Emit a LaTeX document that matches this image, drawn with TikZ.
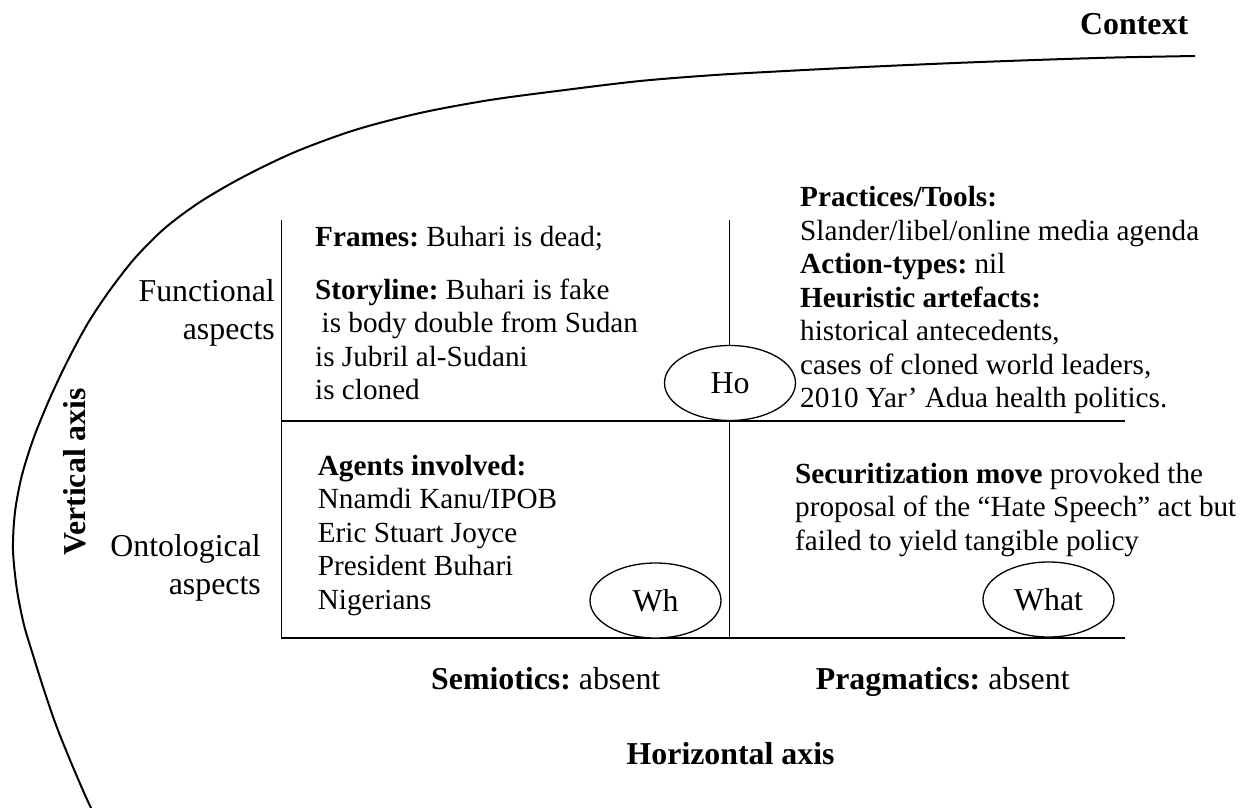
\documentclass[tikz,border=0pt]{standalone}
\usepackage{fontspec}
\setmainfont{Liberation Serif}
\usetikzlibrary{shapes.geometric}
\frenchspacing
\begin{document}
\begin{tikzpicture}[x=1pt,y=-1pt,
  body/.style={inner sep=0pt, font=\frenchspacing\fontsize{29.2}{33.5}\selectfont, align=flush left, text width=470pt, anchor=base west},
  head/.style={inner sep=0pt, font=\frenchspacing\bfseries\fontsize{31.85}{37.3}\selectfont},
  side/.style={inner sep=0pt, font=\fontsize{31.85}{37.3}\selectfont, align=flush right, text width=200pt, anchor=base east},
  gridline/.style={line width=1.6pt},
  contextline/.style={line width=2pt, line join=round},
  tag/.style={draw, ellipse, line width=1.3pt, minimum width=131pt, minimum height=75pt, inner sep=0pt, fill=white, font=\fontsize{31.85}{37}\selectfont}
]
\useasboundingbox (0,0) rectangle (1251,808);

% context curve
\draw[contextline] plot[smooth, tension=0.5] coordinates {(1195,56) (1115,57.5) (1035,60) (955,63) (875,66.5) (795,70.5) (715,75) (640,81) (565,90) (490,100) (420,113) (355,130) (295,152) (243,177) (200,202) (165,228) (135,258) (110,290) (88,323) (68,360) (50,398) (34,437) (22,475) (15,512) (13,550) (17,590) (24,625) (33,655) (44,690) (56,725) (70,760) (85,795) (92,810)};
\node[head, anchor=base west] (context) at (1080,35) {Context};

% grid
\coordinate (TL) at (281.5,220);
\coordinate (BL) at (281.5,637.7);
\coordinate (ML) at (281.5,421);
\coordinate (MR) at (1125,421);
\coordinate (BR) at (1125,637.7);
\coordinate (TM) at (729.5,220);
\coordinate (BM) at (729.5,637.7);
\draw[gridline] (TL) -- (BL) -- (BR);
\draw[gridline] (ML) -- (MR);
\draw[gridline] (TM) -- (BM);

% side labels
\node[side] (func) at (275,301.7) {Functional\\aspects};
\node[side] (onto) at (261,556.7) {Ontological\\aspects};
\node[head, rotate=90, anchor=base] (vaxis) at (85,472) {Vertical axis};

% cell texts
\node[body] (frames) at (315,246.7) {\textbf{Frames:} Buhari is dead;\\[18.8pt]
\textbf{Storyline:} Buhari is fake\\
\hspace*{6.5pt}is body double from Sudan\\
is Jubril al-Sudani\\
is cloned};
\node[body] (practices) at (800,206.7) {\textbf{Practices/Tools:}\\
Slander/libel/online media agenda\\
\textbf{Action-types:} nil\\
\textbf{Heuristic artefacts:}\\
historical antecedents,\\
cases of cloned world leaders,\\
2010 Yar’ Adua health politics.};
\node[body] (agents) at (317.7,475) {\textbf{Agents involved:}\\
Nnamdi Kanu/IPOB\\
Eric Stuart Joyce\\
President Buhari\\
Nigerians};
\node[body] (secur) at (795,483) {\textbf{Securitization move} provoked the\\
proposal of the “Hate Speech” act but\\
failed to yield tangible policy};

% ellipses
\node[tag] (ho) at (730,383) {Ho};
\node[tag] (wh) at (655.5,600.5) {Wh};
\node[tag] (what) at (1048.5,599.5) {What};

% bottom labels
\node[head, anchor=base west] (semio) at (431,689) {Semiotics: \mdseries absent};
\node[head, anchor=base west] (pragm) at (815.6,689) {Pragmatics: \mdseries absent};
\node[head, anchor=base] (haxis) at (730.6,764) {Horizontal axis};
\end{tikzpicture}
\end{document}
